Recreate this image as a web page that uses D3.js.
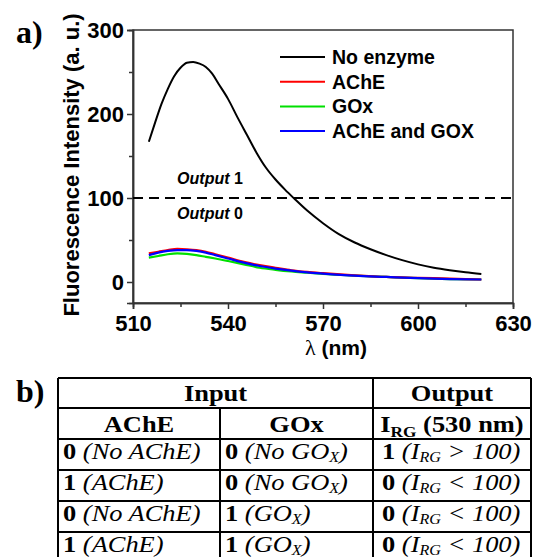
<!DOCTYPE html>
<html>
<head>
<meta charset="utf-8">
<script src="https://cdn.jsdelivr.net/npm/d3@7"></script>
<style>
  body { margin: 0; background: #fff; }
  svg { display: block; }
</style>
</head>
<body>
<div id="chart"></div>
<script>
// spectra
var lambdaBlack = [515, 517, 519, 521, 523, 525, 527, 529, 531, 533, 535, 537, 540, 543, 546, 549, 552, 555, 558, 561, 565, 570, 575, 580, 585, 590, 595, 600, 605, 610, 615, 620];
var noEnzyme = [167, 190, 212, 230, 245, 255, 261, 262, 260, 256, 248, 236, 218, 196, 175, 154, 136, 122, 110, 99, 85, 70, 57, 47, 39, 32, 26, 21, 17, 14, 11.5, 9.5];

var lambdaLow = [515, 518, 521, 524, 527, 530, 533, 536, 540, 545, 550, 555, 560, 565, 570, 580, 590, 600, 610, 620];
var ache = [34, 36, 38, 39.5, 39, 38, 36, 33, 29, 24, 20, 17, 14, 12, 10.5, 8, 6, 5, 4, 3];
var gox = [29, 31, 33, 34, 33.5, 32, 30, 28, 25, 21, 17, 14.5, 12.5, 11, 9.5, 7.5, 6, 4.5, 3.5, 3];
var acheGox = [32, 35, 37, 38, 38, 37, 35, 32, 28, 23, 19, 16, 13.5, 11.5, 10, 7.5, 6, 4.5, 3.5, 3];

var seriesNames = ["No enzyme", "AChE", "GOx", "AChE and GOX"];
var seriesColors = ["#000000", "#ff0000", "#00e000", "#0000ff"];

var xTicks = [510, 540, 570, 600, 630];
var xMinor = [525, 555, 585, 615];
var yTicks = [0, 100, 200, 300];
var yMinor = [50, 150, 250];
var threshold = 100;

// truth table
var inAChE = [0, 1, 0, 1];
var inGOx = [0, 0, 1, 1];
var outIRG = [1, 0, 0, 0];

var svg = d3.select("#chart")
  .append("svg")
  .attr("width", 533)
  .attr("height", 557);

var x = d3.scaleLinear().domain([510, 630]).range([133, 513]);
var y = d3.scaleLinear().domain([-25, 300]).range([303, 30]);

var sans = "'Liberation Sans', Arial, sans-serif";
var serif = "'Liberation Serif', 'Times New Roman', serif";

// panel label
svg.append("text").attr("x", 16).attr("y", 43)
  .attr("font-family", serif).attr("font-weight", "bold").attr("font-size", 32)
  .text("a)");

// frame
svg.append("rect")
  .attr("x", x(510)).attr("y", y(300))
  .attr("width", x(630) - x(510)).attr("height", y(-25) - y(300))
  .attr("fill", "none").attr("stroke", "#333").attr("stroke-width", 1.5);

svg.append("g")
  .attr("transform", `translate(0, ${y(-25)})`)
  .call(d3.axisBottom(x).tickValues(xTicks).tickSize(6).tickPadding(6).tickFormat(d3.format("d")));
svg.append("g")
  .attr("transform", `translate(0, ${y(-25)})`)
  .call(d3.axisBottom(x).tickValues(xMinor).tickSize(4).tickFormat(""));

svg.append("g")
  .attr("transform", `translate(${x(510)}, 0)`)
  .call(d3.axisLeft(y).tickValues(yTicks).tickSize(6).tickPadding(3));
svg.append("g")
  .attr("transform", `translate(${x(510)}, 0)`)
  .call(d3.axisLeft(y).tickValues(yMinor).tickSize(4).tickFormat(""));

svg.selectAll(".domain").attr("stroke", "#333").attr("stroke-width", 1.5);
svg.selectAll(".tick line").attr("stroke", "#333").attr("stroke-width", 1.5);
svg.selectAll(".tick text")
  .attr("font-family", sans).attr("font-weight", "bold").attr("font-size", 22).attr("fill", "#000");

// threshold line
svg.append("line")
  .attr("x1", x(510)).attr("x2", x(630))
  .attr("y1", y(threshold)).attr("y2", y(threshold))
  .attr("stroke", "#000").attr("stroke-width", 2)
  .attr("stroke-dasharray", "10,6");

var out1 = svg.append("text").attr("x", 210).attr("y", 184)
  .attr("text-anchor", "middle").attr("font-family", sans)
  .attr("font-weight", "bold").attr("font-size", 16);
out1.append("tspan").attr("font-style", "italic").text("Output");
out1.append("tspan").text(" 1");

var out0 = svg.append("text").attr("x", 210).attr("y", 219)
  .attr("text-anchor", "middle").attr("font-family", sans)
  .attr("font-weight", "bold").attr("font-size", 16);
out0.append("tspan").attr("font-style", "italic").text("Output");
out0.append("tspan").text(" 0");

// curves
var line = d3.line()
  .x(d => x(d[0]))
  .y(d => y(d[1]))
  .curve(d3.curveMonotoneX);

var lowSeries = [ache, gox, acheGox];
var lowColors = [seriesColors[1], seriesColors[2], seriesColors[3]];
[1, 0, 2].forEach(function(i) {
  svg.append("path")
    .datum(lambdaLow.map((l, j) => [l, lowSeries[i][j]]))
    .attr("d", line)
    .attr("fill", "none")
    .attr("stroke", lowColors[i])
    .attr("stroke-width", 2.2);
});

svg.append("path")
  .datum(lambdaBlack.map((l, j) => [l, noEnzyme[j]]))
  .attr("d", line)
  .attr("fill", "none")
  .attr("stroke", seriesColors[0])
  .attr("stroke-width", 2);

// legend
var legend = svg.selectAll(".legend")
  .data(seriesNames)
  .enter()
  .append("g")
  .attr("transform", (d, i) => `translate(280, ${57 + i * 24.7})`);
legend.append("line")
  .attr("x1", 0).attr("x2", 45)
  .attr("stroke", (d, i) => seriesColors[i]).attr("stroke-width", 2);
legend.append("text")
  .attr("x", 52).attr("dy", "0.36em")
  .attr("font-family", sans).attr("font-weight", "bold").attr("font-size", 19.5)
  .text(d => d);

// axis titles
svg.append("text")
  .attr("transform", "translate(79, 165) rotate(-90)")
  .attr("text-anchor", "middle")
  .attr("font-family", sans).attr("font-weight", "bold").attr("font-size", 22)
  .text("Fluorescence Intensity (a. u.)");

var xt = svg.append("text")
  .attr("x", 336).attr("y", 355)
  .attr("text-anchor", "middle")
  .attr("font-family", sans).attr("font-weight", "bold").attr("font-size", 21);
xt.append("tspan").attr("font-family", serif).attr("font-weight", "normal").attr("font-size", 22).text("λ");
xt.append("tspan").text(" (nm)");

// ---- table b) ----
svg.append("text").attr("x", 16).attr("y", 402)
  .attr("font-family", serif).attr("font-weight", "bold").attr("font-size", 32)
  .text("b)");

var colX = [58, 220, 373, 531];
var rowY = [378, 408, 439, 470, 501, 532, 563];
var tab = svg.append("g");

tab.selectAll(".hline")
  .data(rowY)
  .enter()
  .append("line")
  .attr("x1", colX[0]).attr("x2", colX[3])
  .attr("y1", d => d).attr("y2", d => d)
  .attr("stroke", "#000").attr("stroke-width", 2);
[[colX[0], rowY[0]], [colX[3], rowY[0]], [colX[2], rowY[0]], [colX[1], rowY[1]]].forEach(function(v) {
  tab.append("line").attr("x1", v[0]).attr("x2", v[0]).attr("y1", v[1]).attr("y2", 563)
    .attr("stroke", "#000").attr("stroke-width", 2);
});

var fs = 23, sx = 1.15;
function cell(cx, cy, anchor) {
  return tab.append("text")
    .attr("transform", `translate(${cx}, ${cy}) scale(${sx}, 1)`)
    .attr("text-anchor", anchor)
    .attr("font-family", serif).attr("font-size", fs);
}

cell((colX[0] + colX[2]) / 2, rowY[0] + 23, "middle").attr("font-weight", "bold").text("Input");
cell((colX[2] + colX[3]) / 2, rowY[0] + 23, "middle").attr("font-weight", "bold").text("Output");
cell((colX[0] + colX[1]) / 2, rowY[1] + 24, "middle").attr("font-weight", "bold").text("AChE");
cell((colX[1] + colX[2]) / 2, rowY[1] + 24, "middle").attr("font-weight", "bold").text("GOx");
var hI = cell((colX[2] + colX[3]) / 2, rowY[1] + 24, "middle").attr("font-weight", "bold");
hI.append("tspan").text("I");
hI.append("tspan").attr("font-size", 15).attr("dy", 5).text("RG");
hI.append("tspan").attr("dy", -5).text(" (530 nm)");

inAChE.forEach(function(v, i) {
  var by = rowY[i + 2] + 20;
  var t1 = cell(colX[0] + 5, by, "start");
  t1.append("tspan").attr("font-weight", "bold").text(v + " ");
  t1.append("tspan").attr("font-style", "italic").text(v ? "(AChE)" : "(No AChE)");

  var t2 = cell(colX[1] + 5, by, "start");
  t2.append("tspan").attr("font-weight", "bold").text(inGOx[i] + " ");
  t2.append("tspan").attr("font-style", "italic").text(inGOx[i] ? "(GO" : "(No GO");
  t2.append("tspan").attr("font-style", "italic").attr("font-size", 14).attr("dy", 3).text("X");
  t2.append("tspan").attr("font-style", "italic").attr("dy", -3).text(")");

  var t3 = cell(colX[2] + 9, by, "start");
  t3.append("tspan").attr("font-weight", "bold").text(outIRG[i] + " ");
  t3.append("tspan").attr("font-style", "italic").text("(I");
  t3.append("tspan").attr("font-style", "italic").attr("font-size", 14).attr("dy", 3).text("RG");
  t3.append("tspan").attr("font-style", "italic").attr("dy", -3).text(outIRG[i] ? " > 100)" : " < 100)");
});
</script>
</body>
</html>
